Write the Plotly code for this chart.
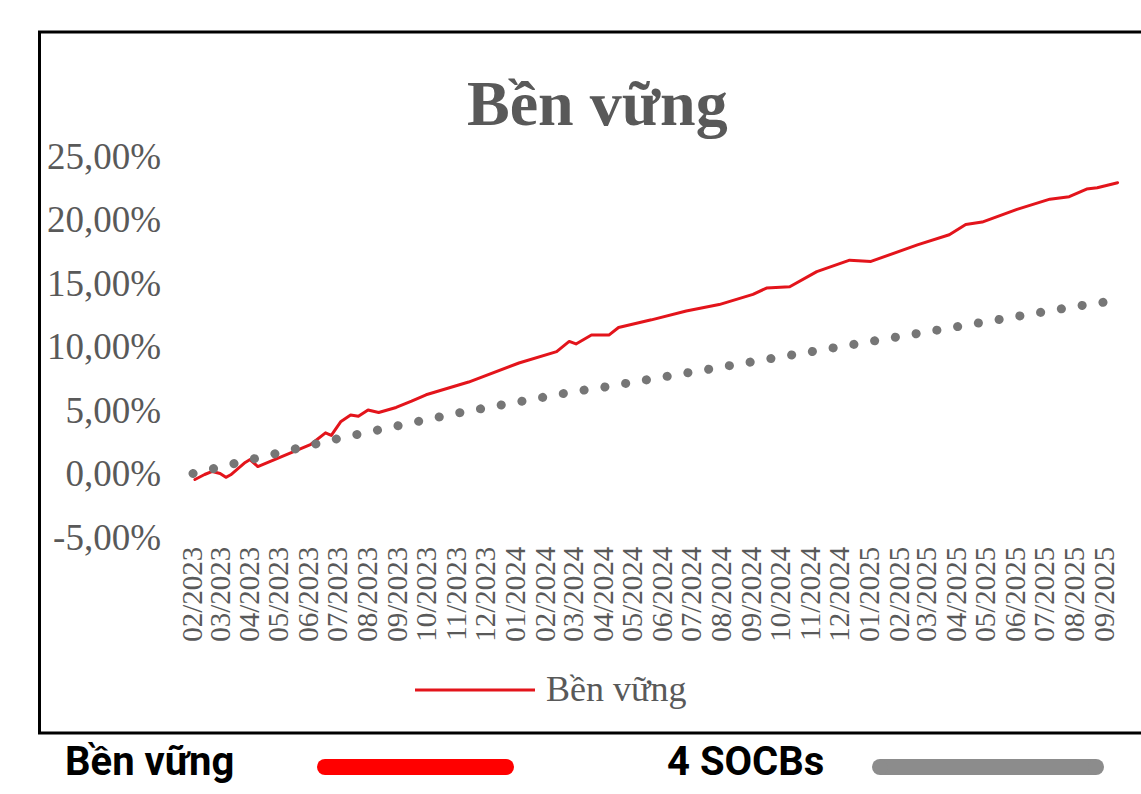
import plotly.graph_objects as go
import pandas as pd

# ---------------- data ----------------
month_labels = ["02/2023", "03/2023", "04/2023", "05/2023", "06/2023", "07/2023",
                "08/2023", "09/2023", "10/2023", "11/2023", "12/2023", "01/2024",
                "02/2024", "03/2024", "04/2024", "05/2024", "06/2024", "07/2024",
                "08/2024", "09/2024", "10/2024", "11/2024", "12/2024", "01/2025",
                "02/2025", "03/2025", "04/2025", "05/2025", "06/2025", "07/2025",
                "08/2025", "09/2025"]
month_dates = ["2023-02-01", "2023-03-01", "2023-04-01", "2023-05-01", "2023-06-01",
               "2023-07-01", "2023-08-01", "2023-09-01", "2023-10-01", "2023-11-01",
               "2023-12-01", "2024-01-01", "2024-02-01", "2024-03-01", "2024-04-01",
               "2024-05-01", "2024-06-01", "2024-07-01", "2024-08-01", "2024-09-01",
               "2024-10-01", "2024-11-01", "2024-12-01", "2025-01-01", "2025-02-01",
               "2025-03-01", "2025-04-01", "2025-05-01", "2025-06-01", "2025-07-01",
               "2025-08-01", "2025-09-01"]

# "Bền vững" cumulative return (%)
ben_vung_dates = ["2023-02-03", "2023-02-13", "2023-02-21", "2023-03-01", "2023-03-07",
                  "2023-03-12", "2023-03-27", "2023-04-01", "2023-04-09", "2023-04-19",
                  "2023-05-10", "2023-06-03", "2023-06-18", "2023-06-24", "2023-07-04",
                  "2023-07-14", "2023-07-22", "2023-08-01", "2023-08-12", "2023-08-30",
                  "2023-09-15", "2023-09-30", "2023-11-13", "2024-01-04", "2024-02-12",
                  "2024-02-25", "2024-03-03", "2024-03-19", "2024-04-06", "2024-04-16",
                  "2024-05-20", "2024-06-25", "2024-07-29", "2024-09-02", "2024-09-16",
                  "2024-10-10", "2024-11-07", "2024-12-11", "2025-01-02", "2025-02-19",
                  "2025-03-24", "2025-04-10", "2025-04-27", "2025-06-02", "2025-07-06",
                  "2025-07-26", "2025-08-13", "2025-08-24", "2025-09-14"]
ben_vung_values = [-0.47, -0.08, 0.16, 0.00, -0.30,
                   -0.10, 0.87, 1.10, 0.55, 0.87,
                   1.50, 2.30, 3.20, 3.00, 4.10,
                   4.60, 4.50, 5.00, 4.80, 5.20,
                   5.70, 6.20, 7.20, 8.70, 9.60,
                   10.40, 10.20, 10.90, 10.90, 11.50,
                   12.10, 12.80, 13.30, 14.10, 14.60,
                   14.70, 15.90, 16.80, 16.70, 18.00,
                   18.80, 19.60, 19.80, 20.80, 21.60,
                   21.80, 22.40, 22.50, 22.90]

# "4 SOCBs" benchmark (%), monthly
socb_values = [0.00, 0.55, 1.05, 1.60, 2.20, 2.75, 3.30, 3.80, 4.25, 4.75,
               5.20, 5.50, 6.05, 6.45, 6.80, 7.20, 7.60, 8.00, 8.40, 8.85,
               9.20, 9.65, 10.00, 10.30, 10.80, 11.15, 11.55, 12.00, 12.40, 12.80,
               13.15, 13.50]

y_ticks = [-5, 0, 5, 10, 15, 20, 25]
y_tick_labels = ["-5,00%", "0,00%", "5,00%", "10,00%", "15,00%", "20,00%", "25,00%"]

title_text = "Bền vững"
series_name = "Bền vững"
bench_name = "4 SOCBs"

# ---------------- layout geometry ----------------
W, H = 1141, 794
ML, MR, MT, MB = 180, 15, 156, 257
PW, PH = W - ML - MR, H - MT - MB


def px(x):
    return (x - ML) / PW


def py(y):
    return (H - MB - y) / PH


# x range so that first month tick lands at 193 px and last at 1105 px
d0 = pd.Timestamp(month_dates[0])
d1 = pd.Timestamp(month_dates[-1])
px_per_day = (1105 - 193) / (d1 - d0).days
x_start = d0 - pd.Timedelta(days=(193 - ML) / px_per_day)
x_end = d1 + pd.Timedelta(days=(ML + PW - 1105) / px_per_day)

SERIF = "Liberation Serif, Times New Roman, serif"
GRAY_TXT = "#595959"
RED = "#E3141B"
GRAY = "#767676"

fig = go.Figure()
fig.add_trace(go.Scatter(x=ben_vung_dates, y=ben_vung_values, mode="lines",
                         name=series_name, line=dict(color=RED, width=3),
                         showlegend=False))
fig.add_trace(go.Scatter(x=month_dates, y=socb_values, mode="lines",
                         name=bench_name, line=dict(color=GRAY, width=9, dash="0.1px,20.95px"),
                         showlegend=False))

shapes = []
annotations = []

# outer frame of the embedded chart image
shapes.append(dict(type="rect", xref="paper", yref="paper",
                   x0=px(39.5), x1=px(1160), y0=py(733), y1=py(32),
                   line=dict(color="#000000", width=3), layer="below"))

# title
annotations.append(dict(text="<b>" + title_text + "</b>", xref="paper", yref="paper",
                        x=px(597), y=py(103), xanchor="center", yanchor="middle",
                        showarrow=False, font=dict(family=SERIF, size=64, color=GRAY_TXT)))

# inner legend
shapes.append(dict(type="line", xref="paper", yref="paper",
                   x0=px(415), x1=px(535), y0=py(690), y1=py(690),
                   line=dict(color=RED, width=3)))
annotations.append(dict(text=series_name, xref="paper", yref="paper",
                        x=px(544), y=py(689), xanchor="left", yanchor="middle",
                        showarrow=False, font=dict(family=SERIF, size=36, color=GRAY_TXT)))

# bottom legend strip
LEG_FONT = dict(family="Roboto, sans-serif", size=40, color="#000000")
annotations.append(dict(text="<b>" + series_name + "</b>", xref="paper", yref="paper",
                        x=px(63), y=py(762), xanchor="left", yanchor="middle",
                        showarrow=False, font=LEG_FONT))
annotations.append(dict(text="<b>" + bench_name + "</b>", xref="paper", yref="paper",
                        x=px(665), y=py(762), xanchor="left", yanchor="middle",
                        showarrow=False, font=LEG_FONT))


def pill(x0, x1, yc, h, color):
    r = h / 2
    out = [dict(type="rect", xref="paper", yref="paper",
                x0=px(x0 + r), x1=px(x1 - r), y0=py(yc + r), y1=py(yc - r),
                fillcolor=color, line=dict(width=0))]
    for cx in (x0 + r, x1 - r):
        out.append(dict(type="circle", xref="paper", yref="paper",
                        x0=px(cx - r), x1=px(cx + r), y0=py(yc + r), y1=py(yc - r),
                        fillcolor=color, line=dict(width=0)))
    return out


shapes += pill(317, 514, 767, 16, "#FF0000")
shapes += pill(872, 1104, 767, 16, "#8C8C8C")

fig.update_layout(
    width=W, height=H,
    margin=dict(l=ML, r=MR, t=MT, b=MB, pad=0),
    paper_bgcolor="#FFFFFF", plot_bgcolor="#FFFFFF",
    shapes=shapes, annotations=annotations,
    showlegend=False,
)
fig.update_xaxes(type="date", range=[x_start, x_end], tickmode="array",
                 tickvals=month_dates, ticktext=month_labels, tickangle=-90,
                 showgrid=False, zeroline=False, showline=False, ticks="",
                 ticklabelstandoff=3,
                 tickfont=dict(family=SERIF, size=29, color=GRAY_TXT))
fig.update_yaxes(range=[-5, 25], tickmode="array", tickvals=y_ticks,
                 ticktext=y_tick_labels, showgrid=False, zeroline=False,
                 showline=False, ticks="", ticklabelstandoff=18,
                 tickfont=dict(family=SERIF, size=37, color=GRAY_TXT))

post = ("document.body.style.margin='0';"
        "var s=document.createElement('style');"
        "s.textContent='body{margin:0}.scatterlayer path.js-line{stroke-linecap:round;stroke-linejoin:round}';"
        "document.head.appendChild(s);")
fig.write_html("out.html", post_script=post, config={"displayModeBar": False})
